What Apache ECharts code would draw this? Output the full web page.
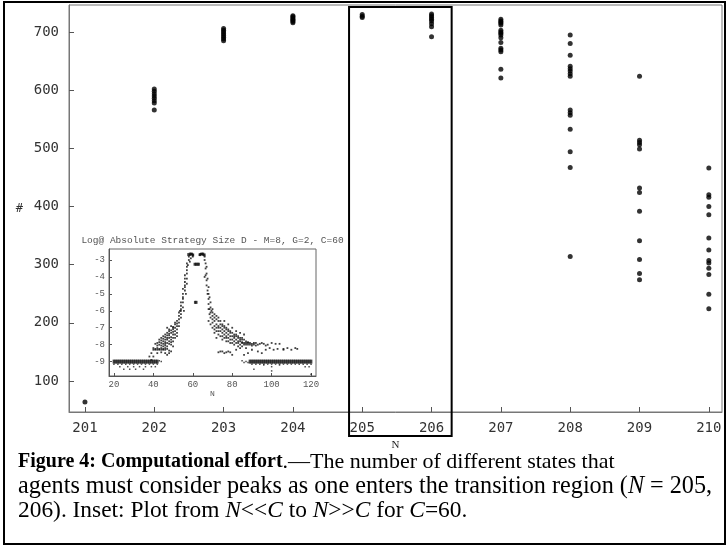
<!DOCTYPE html>
<html>
<head>
<meta charset="utf-8">
<script src="https://cdn.jsdelivr.net/npm/echarts@6/dist/echarts.min.js"></script>
<style>
html, body { margin: 0; padding: 0; background: #fff; }
#chart { width: 727px; height: 548px; }
</style>
</head>
<body>
<div id="chart"></div>
<script>
const xTicks = [201, 202, 203, 204, 205, 206, 207, 208, 209, 210];
const yTicks = [100, 200, 300, 400, 500, 600, 700];
const n201 = [64];
const n202 = [602, 598, 594, 590, 586, 582, 578, 566];
const n203 = [706, 703, 700, 697, 694, 691, 688, 685];
const n204 = [728, 726, 724, 722, 720, 718, 716];
const n205 = [730, 727, 725];
const n206 = [731, 728, 725, 722, 719, 714, 709, 692];
const n207 = [722, 719, 717, 715, 712, 703, 700, 698, 695, 690, 682, 672, 669, 666, 636, 621];
const n208 = [695, 680, 660, 641, 637, 633, 628, 624, 566, 561, 557, 533, 494, 467, 314];
const n209 = [624, 514, 510, 506, 499, 432, 424, 392, 341, 309, 285, 274];
const n210 = [466, 420, 416, 400, 386, 346, 325, 307, 303, 294, 283, 249, 224];
const columns = [n201, n202, n203, n204, n205, n206, n207, n208, n209, n210];

// inset: Log of absolute strategy size vs N (C=60)
const insetXTicks = [20, 40, 60, 80, 100, 120];
const insetYTicks = [-9, -8, -7, -6, -5, -4, -3];
const insetBand = [
  [20,-9],[21,-9],[22,-9],[23,-9],[24,-9],[25,-9],[26,-9],[27,-9],[28,-9],[29,-9],[30,-9],[31,-9],
  [32,-9],[33,-9],[34,-9],[35,-9],[36,-9],[37,-9],[38,-9],[39,-9],[40,-9],[41,-9],[42,-9],
  [89,-9],[90,-9],[91,-9],[92,-9],[93,-9],[94,-9],[95,-9],[96,-9],[97,-9],[98,-9],[99,-9],[100,-9],
  [101,-9],[102,-9],[103,-9],[104,-9],[105,-9],[106,-9],[107,-9],[108,-9],[109,-9],[110,-9],[111,-9],
  [112,-9],[113,-9],[114,-9],[115,-9],[116,-9],[117,-9],[118,-9],[119,-9],[120,-9]
];
const insetPeaks = [
  [57.8,-2.68],[58.6,-2.65],[59.4,-2.65],[60.1,-2.7],[61,-3.25],[61.7,-3.25],[62.4,-3.25],[63,-3.25],
  [63.6,-2.68],[64.4,-2.65],[65.2,-2.65],[65.9,-2.7],[61.2,-5.5],[61.8,-5.5]
];
const insetLow = [
  [20,-9.15],[22,-9.15],[24,-9.15],[26,-9.15],[28,-9.15],[30,-9.15],[32,-9.15],[34,-9.15],[36,-9.15],
  [38,-9.15],[40,-9.15],[42,-9.15],[23,-9.3],[25,-9.45],[27,-9.3],[28,-9.45],[30,-9.3],[31,-9.45],
  [33,-9.3],[35,-9.45],[36,-9.3],[39,-9.3],[41,-9.3],[43,-8.95],[44,-9.0],
  [85,-8.95],[86,-9.05],[87,-9.0],[88,-9.05],[90,-9.15],[92,-9.15],[94,-9.15],[96,-9.15],[98,-9.15],
  [100,-9.15],[102,-9.15],[104,-9.15],[106,-9.15],[108,-9.15],[110,-9.15],[112,-9.15],[114,-9.15],
  [116,-9.15],[118,-9.15],[120,-9.15],[91,-9.45],[100,-9.3],[100,-9.55],[96,-9.2],[104,-9.2],
  [117,-9.3],[119,-9.3],[120,-9.75]
];
const insetRise = [
  [38,-8.7],[39,-8.5],[39,-8.9],[40,-8.7],[40,-8.3],[40,-8.2],[41,-8.25],[41,-8.3],[41,-7.95],[42,-8.2],
  [42,-8.3],[42,-8.5],[42,-8.05],[43,-8.25],[43,-8.3],[43,-8.0],[43,-7.7],[44,-8.2],[44,-8.3],[44,-7.75],
  [44,-8.05],[44,-8.45],[45,-8.25],[45,-8.3],[45,-8.1],[45,-7.65],[45,-7.95],[46,-8.2],[46,-8.3],
  [46,-7.55],[46,-7.85],[46,-8.05],[46,-8.5],[47,-8.25],[47,-7.45],[47,-7.6],[47,-8.1],[47,-8.6],
  [48,-8.5],[48,-7.35],[48,-7.8],[48,-7.45],[48,-8.35],[49,-8.4],[49,-8.0],[49,-7.15],[49,-7.55],
  [49,-7.85],[50,-8.1],[50,-6.95],[50,-7.25],[50,-7.6],[42,-7.9],[43,-7.85],[44,-7.9],[45,-7.8],
  [46,-7.7],[46,-7.95],[47,-7.9],[47,-7.7],[48,-7.6],[48,-7.95],[49,-7.7],[50,-7.8],[44,-7.6],
  [45,-7.5],[46,-7.4],[47,-7.3],[48,-7.2],[49,-7.3],[50,-7.1],[50,-7.4],[51,-7.2],[51,-7.6],[51,-7.0],
  [51,-7.4],[51,-6.7],[52,-7.5],[47,-7.0],[48,-7.1],[49,-6.9],[50,-7.0],[51,-6.8],[52,-6.9],[52,-6.6],
  [52,-6.75],[52,-7.1],[52,-7.3],[53,-6.5],[53,-6.3],[53,-6.7],[53,-6.9],[53,-6.1],[53.5,-6.0],
  [54,-6.2],[54,-6.0],[54,-5.7],[54,-6.4],[54,-5.9],[54,-5.5],[55,-5.5],[55,-5.3],[55,-5.0],[55,-5.8],
  [55,-5.2],[55,-4.7],[55.5,-6.0],[56,-4.8],[56,-4.6],[56,-4.3],[56,-4.5],[56,-4.1],[56,-3.9],
  [56.5,-5.0],[57,-4.1],[57,-3.8],[57,-3.6],[57,-3.4],[57,-3.2],[57,-4.4],[57.5,-3.3],[58,-3.0],
  [58,-2.8],[58.5,-2.7],[59,-2.65],[59.5,-2.65],[60,-2.7],[60,-2.8],[59,-2.9],[58.5,-3.1]
];
const insetTail = [
  [63.5,-2.7],[64,-2.65],[64.5,-2.65],[65,-2.65],[65.5,-2.7],[66,-2.8],[66,-3.0],[66.5,-3.2],[66.5,-3.5],
  [66,-4.0],[66.5,-3.9],[67,-3.4],[67,-3.8],[67,-4.2],[67,-4.5],[67.5,-4.1],[67.5,-4.8],[67.5,-5.0],
  [68,-4.6],[68,-5.3],[68,-5.6],[68,-5.0],[68,-5.9],[68.5,-5.2],[68.5,-5.9],[68.5,-6.2],[69,-6.1],
  [69,-5.8],[69,-6.4],[69,-5.5],[69.5,-6.0],[70,-6.3],[70,-6.5],[70,-5.9],[70,-6.7],[70,-6.1],
  [71,-6.6],[71,-6.2],[71,-6.4],[71,-6.9],[71,-7.1],[72,-6.8],[72,-6.5],[72,-7.0],[72,-6.3],[72,-7.2],
  [73,-6.9],[73,-6.6],[73,-6.4],[73,-7.0],[73,-7.4],[74,-7.0],[74,-6.8],[74,-7.2],[74,-6.6],[74,-7.5],
  [75,-7.1],[75,-6.9],[75,-6.8],[75,-7.3],[75,-7.7],[76,-7.2],[76,-7.0],[76,-6.9],[76,-7.4],[76,-7.6],
  [76,-6.6],[77,-7.3],[77,-7.1],[77,-7.0],[77,-7.5],[77,-7.6],[78,-7.4],[78,-7.2],[78,-7.1],[78,-7.6],
  [78,-7.8],[78,-6.8],[79,-7.5],[79,-7.3],[79,-7.2],[79,-7.7],[80,-7.5],[80,-7.7],[80,-7.3],[80,-7.9],
  [80,-7.0],[81,-7.6],[81,-7.4],[81,-7.5],[81,-7.8],[82,-7.7],[82,-7.5],[82,-7.4],[82,-7.9],[82,-7.2],
  [83,-7.8],[83,-7.6],[83,-7.5],[83,-7.9],[84,-7.8],[84,-7.7],[84,-7.6],[84,-8.0],[84,-7.3],
  [85,-7.9],[85,-7.7],[85,-7.6],[85,-7.85],[86,-7.9],[86,-7.7],[86,-8.0],[86,-7.4],[87,-7.9],[87,-7.8],
  [87,-8.0],[88,-8.0],[88,-7.9],[88,-7.85],[89,-8.0],[89,-7.9],[90,-7.95],[90,-8.05],[91,-8.0],
  [91,-7.9],[92,-7.9],[92,-8.05],[93,-8.0],[94,-7.95],[95,-7.9],[96,-7.95],[97,-8.05],[98,-8.0],
  [100,-7.9],[102,-7.95],[104,-7.95],
  [68,-6.6],[69,-6.8],[70,-7.0],[71,-7.3],[72,-7.6],[73,-7.2],[75,-7.5],[77,-7.8],[79,-7.9],[81,-8.0],
  [83,-8.1],[85,-8.1],[87,-8.2],[73,-8.45],[74,-8.4],[75,-8.4],[76,-8.5],[77,-8.45],[78,-8.4],
  [79,-8.45],[80,-8.6],[82,-8.3],[84,-8.2],[86,-8.6],[88,-8.5],[90,-8.3],[93,-8.4],[95,-8.5],[97,-8.3],
  [99,-8.2],[101,-8.3],[103,-8.25],[106,-8.3],[106,-8.25],[108,-8.2],[110,-8.3],[112,-8.2],[113,-8.25]
];

const mainPoints = [];
columns.forEach((vals, i) => {
  vals.forEach(v => mainPoints.push([xTicks[i], v]));
});

const monoFont = "'DejaVu Sans Mono', monospace";
const insetFont = "'Liberation Mono', monospace";
const serifFont = "'Liberation Serif', 'Times New Roman', serif";

const chart = echarts.init(document.getElementById('chart'));
const option = {
  animation: false,
  backgroundColor: '#fff',
  grid: [
    { left: 69, top: 5, right: 5, bottom: 136, show: true, borderColor: '#777', borderWidth: 1 },
    { left: 109, top: 249, width: 207, height: 127, show: true, backgroundColor: '#fff', borderColor: '#666', borderWidth: 1 }
  ],
  xAxis: [
    {
      type: 'value', gridIndex: 0, min: 200.77, max: 210.19,
      name: 'N', nameLocation: 'middle', nameGap: 15,
      nameTextStyle: { fontFamily: serifFont, fontSize: 11, color: '#222' },
      axisLine: { lineStyle: { color: '#777', width: 1 } },
      axisTick: { inside: true, length: 5, customValues: xTicks, lineStyle: { color: '#555' } },
      axisLabel: { customValues: xTicks, fontFamily: monoFont, fontSize: 14, color: '#333', margin: 9 },
      splitLine: { show: false }
    },
    {
      type: 'value', gridIndex: 1, min: 17.5, max: 122.5,
      name: 'N', nameLocation: 'middle', nameGap: 14,
      nameTextStyle: { fontFamily: insetFont, fontSize: 8, color: '#555' },
      axisLine: { lineStyle: { color: '#555' } },
      axisTick: { inside: true, length: 3, customValues: insetXTicks, lineStyle: { color: '#555' } },
      axisLabel: { customValues: insetXTicks, fontFamily: insetFont, fontSize: 9, color: '#555', margin: 4 },
      splitLine: { show: false }
    }
  ],
  yAxis: [
    {
      type: 'value', gridIndex: 0, min: 46.7, max: 746.4,
      name: '#', nameLocation: 'middle', nameGap: 46, nameRotate: 0,
      nameTextStyle: { fontFamily: monoFont, fontSize: 12, color: '#333' },
      axisLine: { show: true, lineStyle: { color: '#777', width: 1 } },
      axisTick: { show: true, inside: true, length: 5, customValues: yTicks, lineStyle: { color: '#555' } },
      axisLabel: { customValues: yTicks, fontFamily: monoFont, fontSize: 14, color: '#333', margin: 10 },
      splitLine: { show: false }
    },
    {
      type: 'value', gridIndex: 1, min: -9.85, max: -2.35,
      axisLine: { show: true, lineStyle: { color: '#555' } },
      axisTick: { show: true, inside: true, length: 3, customValues: insetYTicks, lineStyle: { color: '#555' } },
      axisLabel: { customValues: insetYTicks, fontFamily: insetFont, fontSize: 9, color: '#555', margin: 4 },
      splitLine: { show: false }
    }
  ],
  series: [
    {
      type: 'scatter', xAxisIndex: 0, yAxisIndex: 0, data: mainPoints,
      symbol: 'circle', symbolSize: 5, itemStyle: { color: '#000' }, z: 3
    },
    {
      type: 'scatter', xAxisIndex: 1, yAxisIndex: 1, data: insetBand,
      symbol: 'rect', symbolSize: [2.6, 4], itemStyle: { color: '#111' }, z: 5
    },
    {
      type: 'scatter', xAxisIndex: 1, yAxisIndex: 1, data: insetPeaks,
      symbol: 'rect', symbolSize: [2.4, 3], itemStyle: { color: '#111' }, z: 5
    },
    {
      type: 'scatter', xAxisIndex: 1, yAxisIndex: 1, data: insetLow,
      symbol: 'rect', symbolSize: 1.5, itemStyle: { color: '#222' }, z: 5
    },
    {
      type: 'scatter', xAxisIndex: 1, yAxisIndex: 1, data: insetRise,
      symbol: 'rect', symbolSize: 1.8, itemStyle: { color: '#111' }, z: 5
    },
    {
      type: 'scatter', xAxisIndex: 1, yAxisIndex: 1, data: insetTail,
      symbol: 'rect', symbolSize: 1.8, itemStyle: { color: '#111' }, z: 5
    }
  ]
};
chart.setOption(option);

// box around the N = 205, 206 columns, plus inset title and caption
const boxA = chart.convertToPixel({ xAxisIndex: 0, yAxisIndex: 0 }, [204.81, 743]);
const boxB = chart.convertToPixel({ xAxisIndex: 0, yAxisIndex: 0 }, [206.29, 5.4]);
const insetTop = chart.convertToPixel({ xAxisIndex: 1, yAxisIndex: 1 }, [70, -2.35]);

function captionRich(size) {
  return {
    b: { fontFamily: serifFont, fontSize: 20, fontWeight: 'bold', color: '#000' },
    r: { fontFamily: serifFont, fontSize: size, color: '#000' },
    i: { fontFamily: serifFont, fontSize: size, fontStyle: 'italic', color: '#000' }
  };
}

chart.setOption({
  graphic: [
    {
      type: 'rect', silent: true, z: 20,
      shape: { x: 4, y: 2, width: 721, height: 542 },
      style: { fill: 'none', stroke: '#000', lineWidth: 2 }
    },
    {
      type: 'rect', silent: true, z: 20,
      shape: { x: boxA[0], y: boxA[1], width: boxB[0] - boxA[0], height: boxB[1] - boxA[1] },
      style: { fill: 'none', stroke: '#000', lineWidth: 2 }
    },
    {
      type: 'text', silent: true, z: 20,
      x: (option.grid[1].left + option.grid[1].width / 2), y: insetTop[1] - 9,
      style: {
        text: 'Log@ Absolute Strategy Size D - M=8, G=2, C=60',
        font: "9.5px 'Liberation Mono', monospace", fill: '#555',
        align: 'center', verticalAlign: 'middle'
      }
    },
    {
      type: 'text', silent: true, z: 20, x: 18, y: 462,
      style: {
        text: '{b|Figure 4: Computational effort}{r|.\u2014The number of different states that}',
        rich: captionRich(22), verticalAlign: 'middle'
      }
    },
    {
      type: 'text', silent: true, z: 20, x: 18, y: 487,
      style: {
        text: '{r|agents must consider peaks as one enters the transition region (}{i|N}{r| = 205,}',
        rich: captionRich(24.2), verticalAlign: 'middle'
      }
    },
    {
      type: 'text', silent: true, z: 20, x: 18, y: 511,
      style: {
        text: '{r|206). Inset: Plot from }{i|N}{r|<<}{i|C}{r| to }{i|N}{r|>>}{i|C}{r| for }{i|C}{r|=60.}',
        rich: captionRich(23.4), verticalAlign: 'middle'
      }
    }
  ]
});
</script>
</body>
</html>
